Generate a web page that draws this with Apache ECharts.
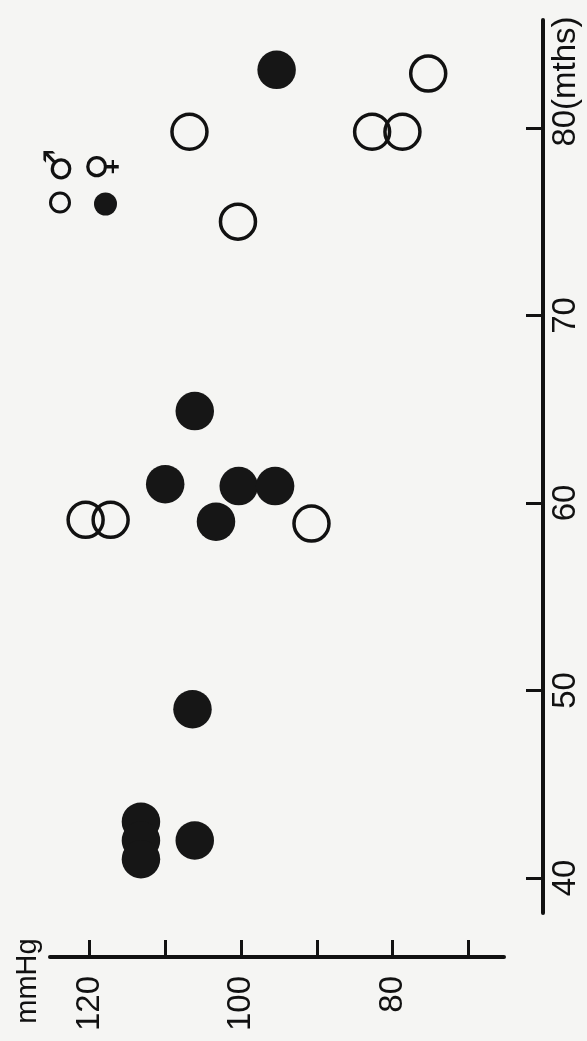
<!DOCTYPE html>
<html>
<head>
<meta charset="utf-8">
<script src="https://cdn.jsdelivr.net/npm/echarts@6/dist/echarts.min.js"></script>
<style>
html,body{margin:0;padding:0;background:#f5f5f3;}
#c{width:587px;height:1041px;}
</style>
</head>
<body>
<div id="c"></div>
<script>
// ---- data (original chart: x = age in months, y = blood pressure mmHg) ----
const maleMonths   = [82.9, 79.8, 79.8, 79.8, 75.0, 59.1, 59.1, 58.9];
const maleBP       = [75.3, 106.8, 82.7, 78.7, 100.4, 120.5, 117.2, 90.7];
const femaleMonths = [83.1, 64.9, 61.0, 60.9, 60.9, 59.0, 49.0, 43.0, 42.0, 41.0, 42.0];
const femaleBP     = [95.3, 106.1, 110.0, 100.3, 95.5, 103.3, 106.4, 113.2, 113.2, 113.2, 106.1];
const monthTicks   = [40, 50, 60, 70, 80];
const bpTicks      = [70, 80, 90, 100, 110, 120];
const bpLabels     = [80, 100, 120];
const monthUnit    = '(mths)';
const bpUnit       = 'mmHg';
const maleSymbol   = '\u2642';
const femaleSymbol = '\u2640';

const INK = '#111111';
const FILL = '#161616';
const FONT = '"Liberation Sans", Arial, sans-serif';
const FS = 33;

// width of the unit text, used as an invisible spacer so the "80" stays centred on its tick
const mctx = document.createElement('canvas').getContext('2d');
mctx.font = FS + 'px "Liberation Sans"';
const unitW = Math.round(mctx.measureText(monthUnit).width);

const chart = echarts.init(document.getElementById('c'), null, {renderer: 'canvas'});
chart.setOption({
  backgroundColor: '#f5f5f3',
  animation: false,
  grid: {left: 50, right: 83, top: 20, bottom: 128, containLabel: false, outerBoundsMode: 'none'},
  xAxis: {
    type: 'value', inverse: true, min: 65.3, max: 125.2,
    position: 'bottom', offset: 44,
    splitLine: {show: false},
    axisLine: {show: true, lineStyle: {color: INK, width: 4}},
    axisTick: {show: true, inside: true, length: 17, customValues: bpTicks, lineStyle: {color: INK, width: 3}},
    axisLabel: {show: true, rotate: 90, margin: 19, customValues: bpLabels,
      fontSize: FS, fontFamily: FONT, color: INK}
  },
  yAxis: {
    type: 'value', min: 38.13, max: 85.76,
    position: 'right', offset: 39,
    splitLine: {show: false},
    axisLine: {show: true, lineStyle: {color: INK, width: 4}},
    axisTick: {show: true, inside: true, length: 17, customValues: monthTicks, lineStyle: {color: INK, width: 3}},
    axisLabel: {show: true, rotate: 90, margin: 6, customValues: monthTicks,
      fontSize: FS, fontFamily: FONT, color: INK,
      formatter: function (v) {
        return v === 80 ? '{sp| }{n|' + v + '}{n|' + monthUnit + '}' : '{n|' + v + '}';
      },
      rich: {
        sp: {width: unitW, fontSize: FS, fontFamily: FONT},
        n: {fontSize: FS, fontFamily: FONT, color: INK}
      }
    }
  },
  graphic: [
    {type: 'text', x: 61, y: 165.5, rotation: Math.PI / 2,
      style: {text: maleSymbol, font: 'bold 38px "DejaVu Sans"', fill: INK, align: 'center', verticalAlign: 'middle'}},
    {type: 'text', x: 104.5, y: 166.7, rotation: Math.PI / 2,
      style: {text: femaleSymbol, font: 'bold 38px "DejaVu Sans"', fill: INK, align: 'center', verticalAlign: 'middle'}},
    {type: 'circle', shape: {cx: 60, cy: 202.5, r: 9.5}, style: {fill: 'none', stroke: INK, lineWidth: 3}},
    {type: 'circle', shape: {cx: 105.5, cy: 204, r: 11.5}, style: {fill: FILL}},
    {type: 'text', x: 28, y: 981, rotation: Math.PI / 2,
      style: {text: bpUnit, font: '29px "Liberation Sans"', fill: INK, align: 'center', verticalAlign: 'middle'}}
  ],
  series: [
    {type: 'scatter', name: 'female', symbol: 'circle', symbolSize: 38.5, z: 2,
      data: femaleBP.map((b, i) => [b, femaleMonths[i]]),
      itemStyle: {color: FILL, opacity: 1}},
    {type: 'scatter', name: 'male', symbol: 'circle', symbolSize: 35, z: 3,
      data: maleBP.map((b, i) => [b, maleMonths[i]]),
      itemStyle: {color: 'rgba(0,0,0,0)', borderColor: INK, borderWidth: 3.5, opacity: 1}}
  ]
});
</script>
</body>
</html>
